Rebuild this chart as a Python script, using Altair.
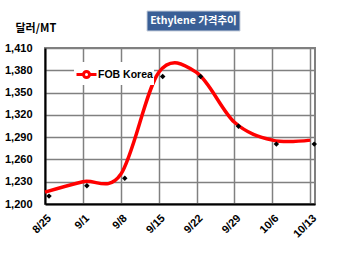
import altair as alt
import pandas as pd

dates = ["8/25", "9/1", "9/8", "9/15", "9/22", "9/29", "10/6", "10/13"]
prices = [1216, 1230, 1240, 1377, 1377, 1310, 1286, 1286]
series_name = "FOB Korea"
y_ticks = [1200, 1230, 1260, 1290, 1320, 1350, 1380, 1410]
title_text = "Ethylene 가격추이"
y_unit = "달러/MT"

df = pd.DataFrame({
    "idx": list(range(len(dates))),
    "date": dates,
    "price": prices,
    "series": [series_name] * len(dates),
})

label_expr = "[" + ",".join(f"'{d}'" for d in dates) + "][datum.value]"
FONT = "Liberation Sans, Arial, Noto Sans CJK KR"
KFONT = "Noto Sans CJK KR, Liberation Sans"

x_axis = alt.Axis(
    values=list(range(len(dates))),
    labelExpr=label_expr,
    labelAngle=-45,
    labelFont=FONT,
    labelFontWeight="bold",
    labelFontSize=11,
    labelColor="black",
    labelPadding=8,
    labelOverlap=False,
    labelFlush=False,
    ticks=True,
    tickSize=0,
    title=None,
    grid=True,
    gridColor="#808080",
    gridWidth=1.5,
    gridOpacity=1,
    domainColor="black",
    domainWidth=2,
)
y_axis = alt.Axis(
    values=y_ticks,
    format=",d",
    labelFont=FONT,
    labelFontWeight="bold",
    labelFontSize=11,
    labelColor="black",
    labelPadding=13,
    labelOverlap=False,
    labelFlush=False,
    ticks=True,
    tickSize=0,
    title=y_unit,
    titleAngle=0,
    titleX=-30,
    titleY=-20,
    titleAlign="left",
    titleBaseline="middle",
    titleFont=KFONT,
    titleFontSize=11,
    titleFontWeight="bold",
    titleColor="black",
    grid=True,
    gridColor="#808080",
    gridWidth=1.5,
    gridOpacity=1,
    domainColor="black",
    domainWidth=2,
)

x_enc = alt.X("idx:Q", scale=alt.Scale(domain=[0, 7.125], nice=False, zero=False), axis=x_axis)
y_enc = alt.Y("price:Q", scale=alt.Scale(domain=[1200, 1410], nice=False, zero=False), axis=y_axis)

line = alt.Chart(df).mark_line(
    interpolate="cardinal", tension=0, strokeWidth=3.5, clip=False
).encode(
    x=x_enc,
    y=y_enc,
    color=alt.Color(
        "series:N",
        scale=alt.Scale(domain=[series_name], range=["#FF0000"]),
        legend=alt.Legend(
            title=None,
            orient="none",
            legendX=29,
            legendY=14,
            padding=1,
            fillColor="white",
            symbolType="M-1,0H-0.3M0.3,0H1M0.3,0A0.3,0.3,0,1,1,-0.3,0A0.3,0.3,0,1,1,0.3,0Z",
            symbolSize=400,
            symbolStrokeWidth=3,
            symbolFillColor="white",
            symbolStrokeColor="#FF0000",
            labelFont=FONT,
            labelFontWeight="bold",
            labelFontSize=10.5,
            labelColor="black",
            labelOffset=0,
        ),
    ),
)

points = alt.Chart(df).mark_point(
    shape="diamond", filled=True, color="black", size=30, opacity=1,
    xOffset=4, yOffset=4,
).encode(x=x_enc, y=y_enc)

tdf = pd.DataFrame({"t": [title_text]})
tbox = alt.Chart(tdf).mark_rect(
    color="#3A5F96", stroke="#C8D0DC", strokeWidth=1
).encode(
    x=alt.value(102), x2=alt.value(195), y=alt.value(-37), y2=alt.value(-17)
)
ttext = alt.Chart(tdf).mark_text(
    color="white", font=KFONT, fontWeight="bold", fontSize=10.5,
    align="center", baseline="middle",
).encode(x=alt.value(148.5), y=alt.value(-27), text="t:N")

chart = alt.layer(line, points, tbox, ttext).properties(
    width=270,
    height=156,
    autosize=alt.AutoSizeParams(type="none"),
    padding={"left": 45, "top": 48, "right": 35, "bottom": 49},
    background="white",
).configure_view(
    stroke="#808080", strokeWidth=2
)

chart.save("out.html", embed_options={"renderer": "svg", "actions": False})
